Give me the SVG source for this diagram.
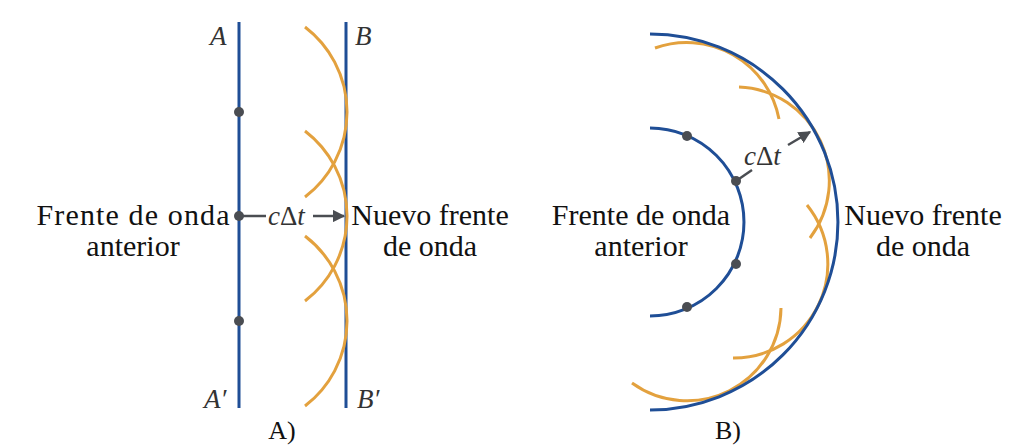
<svg xmlns="http://www.w3.org/2000/svg" width="1024" height="445" viewBox="0 0 1024 445">
<style>
.w{fill:none;stroke:#1f4e96;stroke-width:3}
.o{fill:none;stroke:#e3a13e;stroke-width:3}
.d{fill:#4a4d52}
.t{font-family:"Liberation Serif",serif;font-size:30px;fill:#111;text-anchor:middle}
.i{font-family:"Liberation Serif",serif;font-style:italic;font-size:27px;fill:#333}
.u{font-style:normal}
.a{stroke:#4a4d52;stroke-width:2.5;fill:none}
</style>
<defs><marker id="ar" viewBox="0 0 10 10" refX="9" refY="5" markerWidth="5" markerHeight="5" orient="auto"><path d="M0,0L10,5L0,10z" fill="#4a4d52"/></marker></defs>
<rect width="1024" height="445" fill="#fff"/>
<g id="panelA">
<g id="wavefrontA"><line class="w" x1="239" y1="22" x2="239" y2="408"/></g>
<g id="wavefrontB"><line class="w" x1="346" y1="22" x2="346" y2="408"/></g>
<g id="wavelets">
<path class="o" d="M305,27 A107,107 0 0 1 305,197"/>
<path class="o" d="M305,131 A107,107 0 0 1 305,301"/>
<path class="o" d="M305,236 A107,107 0 0 1 305,406"/>
</g>
<g id="dotsA"><circle class="d" cx="239" cy="112" r="5"/><circle class="d" cx="239" cy="216" r="5"/><circle class="d" cx="239" cy="321" r="5"/></g>
<g id="connectorsA"><line class="a" x1="239" y1="216" x2="266" y2="216"/><line class="a" x1="313" y1="216" x2="344" y2="216" marker-end="url(#ar)"/></g>
<text class="i" x="268" y="225">c<tspan class="u">Δ</tspan>t</text>
<text class="i" x="210" y="45">A</text><text class="i" x="355" y="45">B</text>
<text class="i" x="204" y="408">A′</text><text class="i" x="357" y="408">B′</text>
<text class="t" x="133" y="225" textLength="193">Frente de onda</text><text class="t" x="133" y="256">anterior</text>
<text class="t" x="430" y="225">Nuevo frente</text><text class="t" x="430" y="256">de onda</text>
<text class="t" x="282" y="439" style="font-size:26px">A)</text>
</g>
<g id="panelB">
<g id="innerFront"><path class="w" d="M650,128 A94,94 0 0 1 650,316"/></g>
<g id="waveletsB">
<path class="o" d="M655,48 A94,94 0 0 1 779,119"/>
<path class="o" d="M739,87 A94,94 0 0 1 810,238"/>
<path class="o" d="M807,205 A94,94 0 0 1 733,358"/>
<path class="o" d="M781,308 A94,94 0 0 1 632,383"/>
</g>
<g id="outerFront"><path class="w" d="M650,34 A188,188 0 0 1 650,410"/></g>
<g id="dotsB"><circle class="d" cx="687" cy="136" r="5"/><circle class="d" cx="736" cy="181" r="5"/><circle class="d" cx="736" cy="264" r="5"/><circle class="d" cx="687" cy="307" r="5"/></g>
<g id="connectorsB"><line class="a" x1="736" y1="181" x2="752" y2="170"/><line class="a" x1="788" y1="145" x2="810" y2="132" marker-end="url(#ar)"/></g>
<text class="i" x="744" y="165">c<tspan class="u">Δ</tspan>t</text>
<text class="t" x="641" y="225">Frente de onda</text><text class="t" x="641" y="256">anterior</text>
<text class="t" x="923" y="225">Nuevo frente</text><text class="t" x="923" y="256">de onda</text>
<text class="t" x="728" y="439" style="font-size:26px">B)</text>
</g>
</svg>
